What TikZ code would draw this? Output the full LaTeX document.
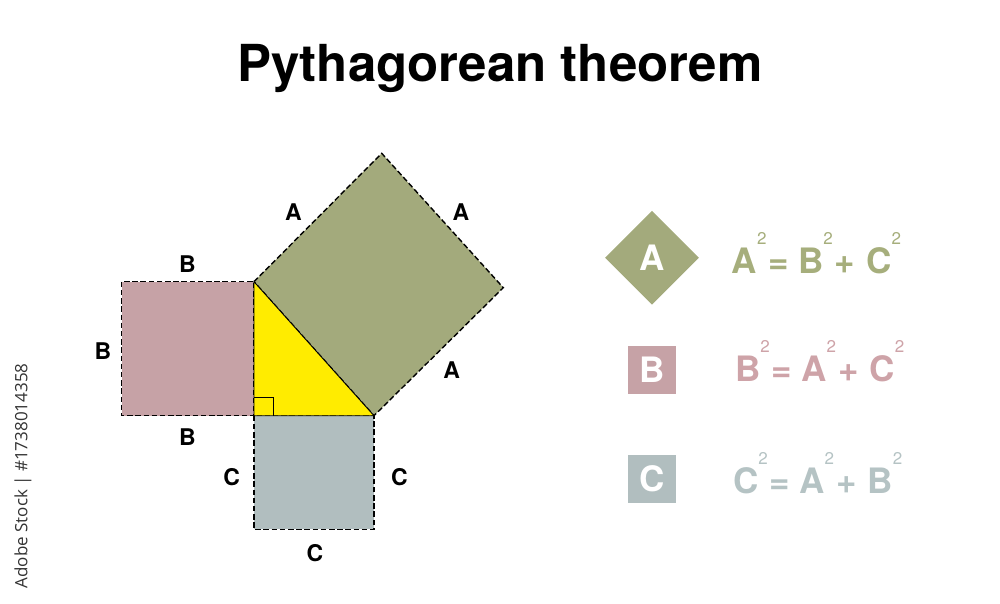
\documentclass[tikz,border=0pt]{standalone}
\usepackage{fontspec}
\usetikzlibrary{shapes.geometric}
\setmainfont{TeX Gyre Heros}
\setsansfont{Open Sans}
\definecolor{sqA}{HTML}{A3AA7C}
\definecolor{sqB}{HTML}{C6A2A6}
\definecolor{sqC}{HTML}{B1BEBF}
\definecolor{tri}{HTML}{FFEC00}
\definecolor{eqA}{HTML}{A6AE7C}
\definecolor{eqB}{HTML}{CEA3A8}
\definecolor{eqC}{HTML}{B5C3C4}
\newcommand{\sqr}{\raisebox{29pt}{\fontsize{17}{17}\selectfont\mdseries 2}}
\tikzset{
  sqedge/.style={draw=black, line width=1.4pt, dash pattern=on 5.5pt off 2.7pt},
  side/.style={font=\fontsize{23}{23}\selectfont\bfseries, inner sep=0pt},
  key/.style={font=\fontsize{35}{35}\selectfont\bfseries, text=white, inner sep=0pt},
  eq/.style={font=\fontsize{35}{35}\selectfont\bfseries, inner sep=0pt, anchor=base west}
}
\begin{document}
\begin{tikzpicture}[x=1pt,y=-1pt]
   \useasboundingbox (0,0) rectangle (1000,604);
   % title
   \node[font=\fontsize{51}{51}\selectfont\bfseries, anchor=base] (title) at (500,82) {Pythagorean theorem};
   % triangle corners
   \coordinate (rt) at (254,415.7);
   \coordinate (top) at (254,281.7);
   \coordinate (rgt) at (374,415.7);
   \coordinate (aT) at (381.7,153.3);
   \coordinate (aR) at (503.3,287.7);
   % squares
   \filldraw[fill=sqB, sqedge] (121.7,281.7) rectangle (rt);
   \filldraw[fill=sqC, sqedge] (rt) rectangle (374,529.3);
   \filldraw[fill=sqA, sqedge] (top) -- (aT) -- (aR) -- (rgt) -- cycle;
   \filldraw[fill=tri, line width=0.9pt] (rt) -- (top) -- (rgt) -- cycle;
   \draw[line width=0.7pt] (254,397) -| (273,415.7);
   % side labels
   \node[side] (a1) at (293.3,211.7) {A};
   \node[side] (a2) at (461,211.7) {A};
   \node[side] (a3) at (451.7,370) {A};
   \node[side] (b1) at (187.3,264) {B};
   \node[side] (b2) at (103,351) {B};
   \node[side] (b3) at (187.3,436.7) {B};
   \node[side] (c1) at (231.7,476.7) {C};
   \node[side] (c2) at (399.3,476.7) {C};
   \node[side] (c3) at (315,552.7) {C};
   % legend
   \node[fill=sqA, diamond, minimum size=94pt, inner sep=0pt, shape aspect=1] (keyA) at (652,257.7) {};
   \node[key] at (keyA) {A};
   \node[fill=sqB, minimum size=48pt, inner sep=0pt] (keyB) at (652,369.5) {};
   \node[key] at (keyB) {B};
   \node[fill=sqC, minimum size=48pt, inner sep=0pt] (keyC) at (652,479) {};
   \node[key] at (keyC) {C};
   \node[eq, text=eqA] (eqA) at (731.7,273.3) {A\sqr\hspace{2pt}=\hspace{9pt}B\sqr\hspace{2pt}+\hspace{11pt}C\sqr};
   \node[eq, text=eqB] (eqB) at (735,381.7) {B\sqr\hspace{2pt}=\hspace{9pt}A\sqr\hspace{2pt}+\hspace{11pt}C\sqr};
   \node[eq, text=eqC] (eqC) at (733,493.3) {C\sqr\hspace{2pt}=\hspace{9pt}A\sqr\hspace{2pt}+\hspace{11pt}B\sqr};
   % side stamp
   \node[rotate=90, font=\sffamily\fontsize{17}{17}\selectfont, text=black!80] (stamp) at (23,476) {Adobe Stock | \#1738014358};
\end{tikzpicture}
\end{document}
